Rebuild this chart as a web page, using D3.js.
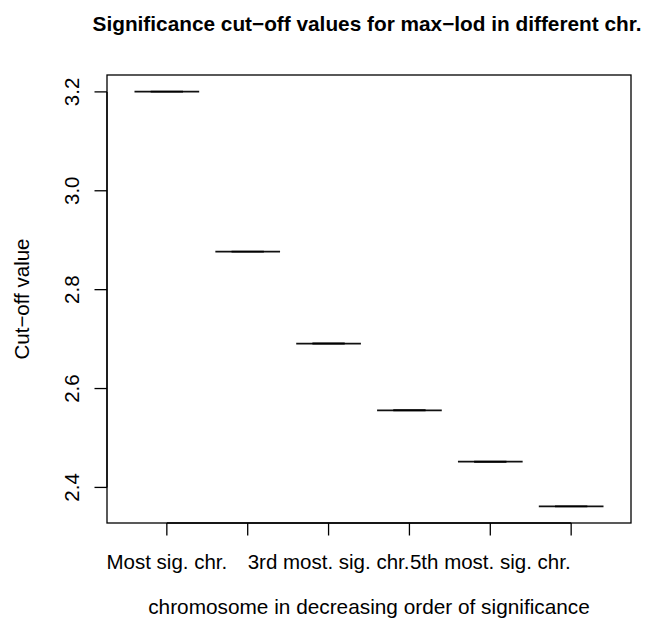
<!DOCTYPE html>
<html>
<head>
<meta charset="utf-8">
<script src="https://cdn.jsdelivr.net/npm/d3@7"></script>
<style>
  body { margin: 0; background: #fff; }
  svg text { font-family: "Liberation Sans", Arial, Helvetica, sans-serif; fill: #000; }
  .frame { fill: none; stroke: #000; stroke-width: 1.3; }
  .tick-line { stroke: #000; stroke-width: 1.3; }
  .box-line { stroke: #111; stroke-width: 1.7; }
  .staple { stroke: #000; stroke-width: 1.9; }
</style>
</head>
<body>
<div id="chart"></div>
<script>
/* chart data */
var chrLabels = ["Most sig. chr.", "2nd most. sig. chr.", "3rd most. sig. chr.",
                 "4th most. sig. chr.", "5th most. sig. chr.", "6th most. sig. chr."];
var cutoffs = [3.2006, 2.877, 2.691, 2.556, 2.452, 2.3616];
var yTicks = [2.4, 2.6, 2.8, 3.0, 3.2];

var width = 648, height = 626;
var plot = {left: 107, right: 631, top: 75, bottom: 523};

var svg = d3.select("#chart").append("svg")
    .attr("width", width)
    .attr("height", height);

// R style axis ranges: 4% padding on each side
var ymin = d3.min(cutoffs), ymax = d3.max(cutoffs), yr = ymax - ymin;
var y = d3.scaleLinear()
    .domain([ymin - 0.04 * yr, ymax + 0.04 * yr])
    .range([plot.bottom, plot.top]);

var n = chrLabels.length;
var xr = n; // 0.5 .. n+0.5
var x = d3.scaleLinear()
    .domain([0.5 - 0.04 * xr, n + 0.5 + 0.04 * xr])
    .range([plot.left, plot.right]);

var boxW = (x(1.4) - x(0.6));

// boxes (degenerate: all stats equal)
var boxes = svg.append("g").selectAll(".box")
    .data(cutoffs)
  .enter().append("g")
    .attr("class", "box");

boxes.append("line")
    .attr("class", "box-line")
    .attr("x1", function(d, i) { return x(i + 1) - boxW / 2; })
    .attr("x2", function(d, i) { return x(i + 1) + boxW / 2; })
    .attr("y1", function(d) { return y(d); })
    .attr("y2", function(d) { return y(d); });

boxes.append("line")
    .attr("class", "staple")
    .attr("x1", function(d, i) { return x(i + 1) - boxW / 4; })
    .attr("x2", function(d, i) { return x(i + 1) + boxW / 4; })
    .attr("y1", function(d) { return y(d); })
    .attr("y2", function(d) { return y(d); });

// frame
svg.append("rect")
    .attr("class", "frame")
    .attr("x", plot.left)
    .attr("y", plot.top)
    .attr("width", plot.right - plot.left)
    .attr("height", plot.bottom - plot.top);

// y axis
var tickLen = 12.5;
var yAxis = svg.append("g");
yAxis.append("line")
    .attr("class", "tick-line")
    .attr("x1", plot.left).attr("x2", plot.left)
    .attr("y1", y(yTicks[0])).attr("y2", y(yTicks[yTicks.length - 1]));
yAxis.selectAll(".ytick")
    .data(yTicks)
  .enter().append("line")
    .attr("class", "tick-line")
    .attr("x1", plot.left - tickLen).attr("x2", plot.left)
    .attr("y1", function(d) { return y(d); })
    .attr("y2", function(d) { return y(d); });
yAxis.selectAll(".ylab")
    .data(yTicks)
  .enter().append("text")
    .attr("transform", function(d) { return "translate(78.5," + y(d) + ") rotate(-90)"; })
    .attr("text-anchor", "middle")
    .style("font-size", "20.5px")
    .text(function(d) { return d3.format(".1f")(d); });

// x axis
var xAxis = svg.append("g");
xAxis.append("line")
    .attr("class", "tick-line")
    .attr("x1", x(1)).attr("x2", x(n))
    .attr("y1", plot.bottom).attr("y2", plot.bottom);
xAxis.selectAll(".xtick")
    .data(chrLabels)
  .enter().append("line")
    .attr("class", "tick-line")
    .attr("x1", function(d, i) { return x(i + 1); })
    .attr("x2", function(d, i) { return x(i + 1); })
    .attr("y1", plot.bottom).attr("y2", plot.bottom + tickLen);

// like R, skip labels that would overlap the previous one
var lastRight = -Infinity;
chrLabels.forEach(function(lab, i) {
  var t = xAxis.append("text")
      .attr("x", x(i + 1))
      .attr("y", 568.5)
      .attr("text-anchor", "middle")
      .style("font-size", "20.5px")
      .text(lab);
  var w = t.node().getComputedTextLength();
  var left = x(i + 1) - w / 2;
  if (left < lastRight - 2) {
    t.remove();
  } else {
    lastRight = left + w;
  }
});

// titles
svg.append("text")
    .attr("x", 367)
    .attr("y", 31)
    .attr("text-anchor", "middle")
    .style("font-size", "20.8px")
    .style("font-weight", "bold")
    .text("Significance cut\u2212off values for max\u2212lod in different chr.");

svg.append("text")
    .attr("x", (plot.left + plot.right) / 2)
    .attr("y", 614)
    .attr("text-anchor", "middle")
    .style("font-size", "20.8px")
    .text("chromosome in decreasing order of significance");

svg.append("text")
    .attr("transform", "translate(29," + ((plot.top + plot.bottom) / 2) + ") rotate(-90)")
    .attr("text-anchor", "middle")
    .style("font-size", "20.5px")
    .text("Cut\u2212off value");
</script>
</body>
</html>
